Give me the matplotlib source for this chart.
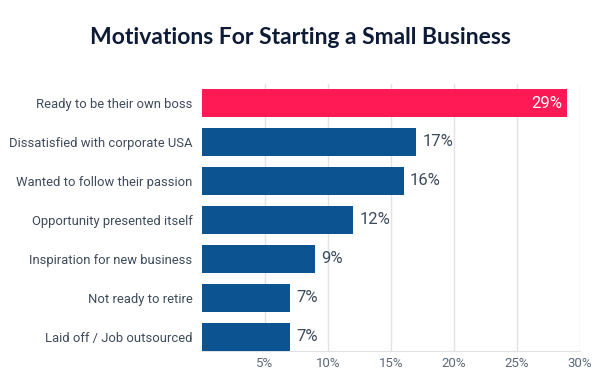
import matplotlib.pyplot as plt

# Data
reasons = [
    "Ready to be their own boss",
    "Dissatisfied with corporate USA",
    "Wanted to follow their passion",
    "Opportunity presented itself",
    "Inspiration for new business",
    "Not ready to retire",
    "Laid off / Job outsourced",
]
percents = [29, 17, 16, 12, 9, 7, 7]
xticks = [5, 10, 15, 20, 25, 30]
xtick_labels = ["5%", "10%", "15%", "20%", "25%", "30%"]

pink = "#ff1a55"
blue = "#0b5391"
text_col = "#3d4b5c"

plt.rcParams['font.family'] = ['Roboto', 'DejaVu Sans']

fig = plt.figure(figsize=(6, 3.84), dpi=100)
ax = fig.add_axes([202 / 600, 1 - 351 / 384, 378 / 600, 267 / 384])

colors = [pink] + [blue] * (len(percents) - 1)
ypos = list(range(len(reasons)))
ax.barh(ypos, percents, height=0.72, color=colors, zorder=3)

ax.set_xlim(0, 30)
ax.set_ylim(len(reasons) - 0.63, -0.49)

ax.set_yticks(ypos)
ax.set_yticklabels(reasons, fontsize=9.4, color=text_col)
ax.set_xticks(xticks)
ax.set_xticklabels(xtick_labels, fontsize=9.5, color="#5a6878")
ax.tick_params(axis="x", length=0, pad=4)
ax.tick_params(axis="y", length=0, pad=7)

ax.grid(axis="x", color="#e2e2e6", linewidth=1, zorder=0)
for s in ["top", "right", "left"]:
    ax.spines[s].set_visible(False)
ax.spines["bottom"].set_color("#e2e2e6")

# Value labels
for i, v in enumerate(percents):
    if i == 0:
        ax.text(v - 0.4, i, f"{v}%", ha="right", va="center",
                color="white", fontsize=12, zorder=4)
    else:
        ax.text(v + 0.5, i, f"{v}%", ha="left", va="center",
                color=text_col, fontsize=12, zorder=4)

fig.text(0.5, 1 - 38 / 384, "Motivations For Starting a Small Business",
         ha="center", va="center", fontsize=16.5, fontweight="bold",
         color="#0d1b36", family=["Lato", "DejaVu Sans"])

fig.savefig("out.png", dpi=100, facecolor="white")
